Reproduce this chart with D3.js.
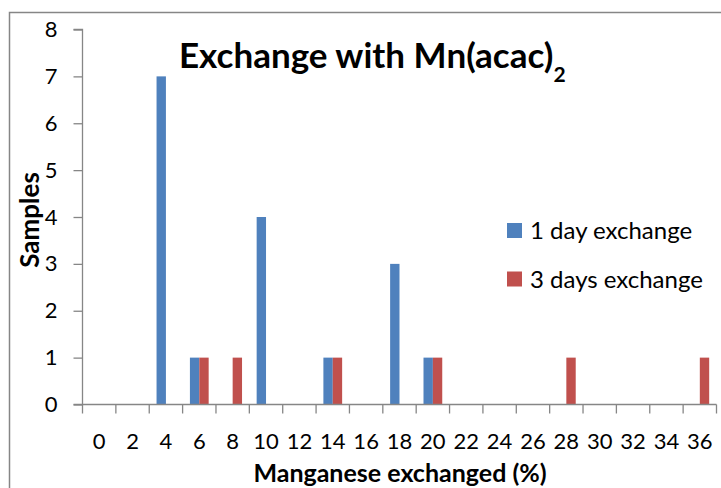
<!DOCTYPE html>
<html>
<head>
<meta charset="utf-8">
<script src="https://cdn.jsdelivr.net/npm/d3@7"></script>
<style>
  html, body { margin: 0; padding: 0; background: #fff; }
  svg { display: block; }
  text { font-family: Lato, "Open Sans", sans-serif; fill: #000; }
</style>
</head>
<body>
<svg id="chart" width="721" height="488"></svg>
<script>
const categories = ["0","2","4","6","8","10","12","14","16","18","20","22","24","26","28","30","32","34","36"];
const seriesNames = ["1 day exchange", "3 days exchange"];
const oneDay   = [0,0,7,1,0,4,0,1,0,3,1,0,0,0,0,0,0,0,0];
const threeDays= [0,0,0,1,1,0,0,1,0,0,1,0,0,0,1,0,0,0,1];
const yTicks = [0,1,2,3,4,5,6,7,8];
const colors = ["#4F81BD", "#C0504D"];

(function () {
const svg = d3.select("#chart");
const pLeft = 82.5, pRight = 716.5, pTop = 29.5, pBottom = 404.5;
const axisColor = "#868686";

// outer chart border
svg.append("rect").attr("x", 9.5).attr("y", 12.5).attr("width", 760).attr("height", 520)
  .attr("fill", "none").attr("stroke", axisColor).attr("stroke-width", 1.5);

const x = d3.scaleBand().domain(categories).range([pLeft, pRight]).paddingInner(0).paddingOuter(0);
const inner = d3.scaleBand().domain(seriesNames).range([0, x.bandwidth()]).paddingInner(0).paddingOuter(0.78);
const y = d3.scaleLinear().domain([0, 8]).range([pBottom, pTop]);

const data = categories.map((c, i) => ({ cat: c, vals: [oneDay[i], threeDays[i]] }));

const g = svg.append("g");
data.forEach(d => {
  d.vals.forEach((v, k) => {
    if (v > 0) {
      g.append("rect")
        .attr("x", x(d.cat) + inner(seriesNames[k]))
        .attr("y", y(v))
        .attr("width", inner.bandwidth())
        .attr("height", y(0) - y(v))
        .attr("fill", colors[k]);
    }
  });
});

// y axis
const yAxis = d3.axisLeft(y).tickValues(yTicks).tickSize(9).tickPadding(16).tickFormat(d3.format("d"));
const ya = svg.append("g").attr("transform", `translate(${pLeft},0)`).call(yAxis);
ya.select(".domain").attr("stroke", axisColor).attr("stroke-width", 1.3).attr("d", `M-9,${pTop}H0V${pBottom}H-9`);
ya.selectAll(".tick line").attr("stroke", axisColor).attr("stroke-width", 1.3);
ya.selectAll(".tick text").style("font-size", "22px").style("font-family", "Lato, sans-serif").attr("fill", "#000");

// x axis: ticks at band boundaries
const xa = svg.append("g").attr("transform", `translate(0,${pBottom})`);
const xAxis = d3.axisBottom(x).tickSize(0).tickPadding(29);
xa.call(xAxis);
xa.select(".domain").attr("stroke", axisColor).attr("stroke-width", 1.3).attr("d", `M${pLeft},0H${pRight}`);
xa.selectAll(".tick text").style("font-size", "22px").style("font-family", "Lato, sans-serif").attr("fill", "#000");
const boundaries = categories.map(c => x(c)).concat([x(categories[categories.length-1]) + x.bandwidth()]);
xa.selectAll("line.bnd").data(boundaries).join("line").attr("class", "bnd")
  .attr("x1", d => d).attr("x2", d => d).attr("y1", 0).attr("y2", 9)
  .attr("stroke", axisColor).attr("stroke-width", 1.3);

// title
const title = svg.append("text").attr("x", 179).attr("y", 68)
  .style("font-size", "35px").style("font-weight", "bold");
title.append("tspan").text("Exchange with Mn(acac)");
title.append("tspan").text("2").attr("dy", 14).style("font-size", "21px");

// axis titles
svg.append("text").attr("x", 400).attr("y", 482).attr("text-anchor", "middle")
  .style("font-size", "25px").style("font-weight", "bold").text("Manganese exchanged (%)");
svg.append("text").attr("transform", "translate(39,220) rotate(-90)").attr("text-anchor", "middle")
  .style("font-size", "26px").style("font-weight", "bold").text("Samples");

// legend
const legendY = [230.5, 279];
seriesNames.forEach((s, k) => {
  svg.append("rect").attr("x", 507).attr("y", legendY[k] - 7.5).attr("width", 15).attr("height", 15).attr("fill", colors[k]);
  svg.append("text").attr("x", 530).attr("y", legendY[k] + 8.5).style("font-size", "24px").text(s);
});
})();
</script>
</body>
</html>
